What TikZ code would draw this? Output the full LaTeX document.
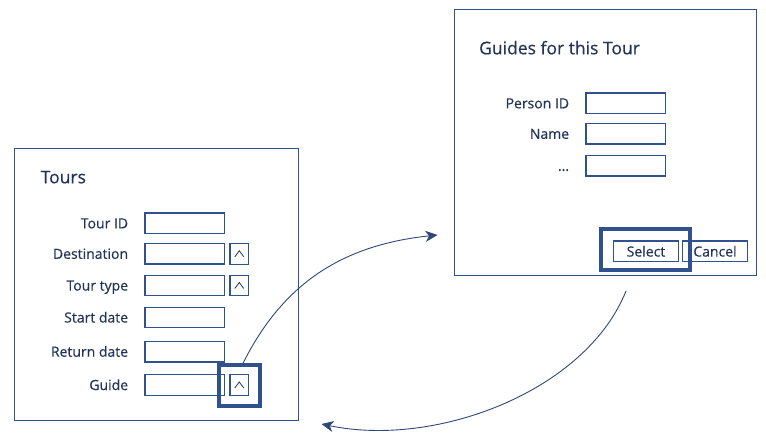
\documentclass[tikz,border=0pt]{standalone}
\usepackage{fontspec}
\setmainfont{Open Sans}[FakeBold=0.35]
\usetikzlibrary{arrows.meta}
\definecolor{lineblue}{RGB}{47,82,143}
\definecolor{textblue}{RGB}{34,52,90}
\definecolor{arrowblue}{RGB}{46,72,120}
\tikzset{
  panel/.style={draw=lineblue, line width=1pt, inner sep=0pt, fill=white},
  field/.style={draw=lineblue, line width=1.2pt, inner sep=0pt, minimum width=79.5pt, minimum height=20.5pt},
  btnbox/.style={draw=lineblue, line width=1.2pt, inner sep=0pt, minimum width=18.7pt, minimum height=20.7pt},
  cmdbtn/.style={draw=lineblue, line width=1.2pt, inner sep=0pt, minimum width=65.4pt, minimum height=20.7pt, text=textblue, font=\fontsize{14}{16}\selectfont},
  hilite/.style={draw=lineblue, line width=4pt, inner sep=0pt},
  lbl/.style={anchor=base east, inner sep=0pt, text=textblue, font=\fontsize{14}{16}\selectfont},
  ttl/.style={anchor=base west, inner sep=0pt, text=textblue, font=\fontsize{17.5}{20}\selectfont},
  chev/.style={draw=textblue, line width=0.8pt},
  flow/.style={draw=arrowblue, line width=0.9pt, -{Stealth[length=12pt,width=11pt,inset=3.5pt]}}
}
\begin{document}
\begin{tikzpicture}[x=1pt,y=-1pt]
\useasboundingbox (0,0) rectangle (766,444);
\fill[white] (0,0) rectangle (766,444);

% ---- Tours panel ----
\node[panel, minimum width=284pt, minimum height=271.7pt] (tours) at (156.3,284.2) {};
\node[ttl] (tourstitle) at (40.5,183.3) {Tours};

\node[lbl] (l1) at (128.3,228.3) {Tour ID};
\node[lbl] (l2) at (128.3,258.8) {Destination};
\node[lbl] (l3) at (128.3,290.5) {Tour type};
\node[lbl] (l4) at (128.3,322.5) {Start date};
\node[lbl] (l5) at (128.3,356.7) {Return date};
\node[lbl] (l6) at (128.3,390) {Guide};

\node[field] (f1) at (184.7,223.3) {};
\node[field] (f2) at (184.7,253.8) {};
\node[field] (f3) at (184.7,285.5) {};
\node[field] (f4) at (184.7,317.5) {};
\node[field] (f5) at (184.7,351.7) {};
\node[field] (f6) at (184.7,385) {};

\node[btnbox] (b2) at (239.3,253.8) {};
\node[btnbox] (b3) at (239.3,285.5) {};
\node[btnbox] (b6) at (239.3,385) {};
\foreach \b in {b2,b3,b6}{
  \draw[chev] (\b.center) ++(-4.5,3) -- ++(4.5,-6) -- ++(4.5,6);
}
\node[hilite, minimum width=41pt, minimum height=41pt] (hlg) at (239.2,385.8) {};

% ---- Guides panel ----
\node[panel, minimum width=301.7pt, minimum height=265.7pt] (guides) at (605.8,142.8) {};
\node[ttl] (guidestitle) at (479,54.3) {Guides for this Tour};

\node[lbl] (g1) at (569.3,108.3) {Person ID};
\node[lbl] (g2) at (569.3,138.8) {Name};
\node[lbl] (g3) at (569.3,170.8) {...};

\node[field] (h1) at (625.8,103.3) {};
\node[field] (h2) at (625.8,133.8) {};
\node[field] (h3) at (625.8,165.8) {};

\node[cmdbtn] (sel) at (646,251.3) {Select};
\node[cmdbtn] (cancel) at (715,251.3) {Cancel};
\node[hilite, minimum width=89.3pt, minimum height=41pt] (hls) at (645.7,249.2) {};

% ---- connectors ----
\coordinate (a1e) at (437.5,235);
\coordinate (a2s) at (626,291);
\coordinate (a2e) at (321.5,424);
\draw[flow] ([xshift=3.8pt]hlg.north) .. controls +(40,-80) and +(-95,10) .. (a1e);
\draw[flow] (a2s) .. controls +(-40,100) and +(115,24) .. (a2e);
\end{tikzpicture}
\end{document}
